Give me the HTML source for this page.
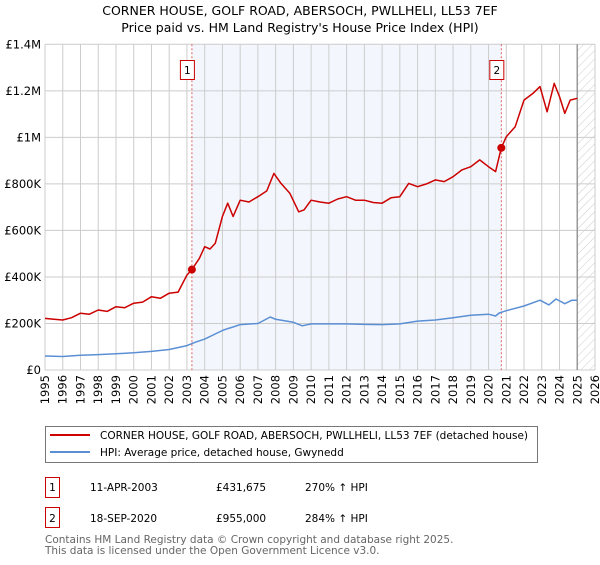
<!DOCTYPE html>
<html><head><meta charset="utf-8"><style>
body{margin:0;background:#fff;font-family:"Liberation Sans","DejaVu Sans",sans-serif;}
svg text{font-family:"DejaVu Sans","Liberation Sans",sans-serif;}
</style></head><body>
<svg id="c" width="600" height="560" xmlns="http://www.w3.org/2000/svg">
<defs><pattern id="hatch" width="6" height="6" patternUnits="userSpaceOnUse" patternTransform="rotate(45)"><line x1="0" y1="0" x2="0" y2="6" stroke="#ccc" stroke-width="1"/></pattern></defs>
<text x="300" y="15" text-anchor="middle" font-size="12.5" fill="#000">CORNER HOUSE, GOLF ROAD, ABERSOCH, PWLLHELI, LL53 7EF</text>
<text x="300" y="32" text-anchor="middle" font-size="12.5" fill="#000">Price paid vs. HM Land Registry's House Price Index (HPI)</text>
<g id="plot"></g>
<rect x="45.5" y="426.5" width="492" height="36" fill="#fff" stroke="#777"/>
<line x1="50" y1="435" x2="90" y2="435" stroke="#cc0000" stroke-width="2"/>
<text x="100" y="439" font-size="10.5">CORNER HOUSE, GOLF ROAD, ABERSOCH, PWLLHELI, LL53 7EF (detached house)</text>
<line x1="50" y1="452" x2="90" y2="452" stroke="#5b8fd4" stroke-width="2"/>
<text x="100" y="456" font-size="10.5">HPI: Average price, detached house, Gwynedd</text>
<g>
<rect x="45.5" y="477.5" width="14" height="20" fill="#fff" stroke="#cc0000"/>
<text x="52.5" y="491" text-anchor="middle" font-size="10.5">1</text>
<text x="90" y="491" font-size="10.5">11-APR-2003</text>
<text x="216" y="491" font-size="10.5">£431,675</text>
<text x="305" y="491" font-size="10.5">270% ↑ HPI</text></g>
<g>
<rect x="45.5" y="507.5" width="14" height="20" fill="#fff" stroke="#cc0000"/>
<text x="52.5" y="522" text-anchor="middle" font-size="10.5">2</text>
<text x="90" y="522" font-size="10.5">18-SEP-2020</text>
<text x="216" y="522" font-size="10.5">£955,000</text>
<text x="305" y="522" font-size="10.5">284% ↑ HPI</text></g>
<text x="45" y="543" font-size="10.5" fill="#666">Contains HM Land Registry data © Crown copyright and database right 2025.</text>
<text x="45" y="554" font-size="10.5" fill="#666">This data is licensed under the Open Government Licence v3.0.</text>
</svg>
<script>
const yTicks=[0,200,400,600,800,1000,1200,1400];
const yTickLabels=["£0","£200K","£400K","£600K","£800K","£1M","£1.2M","£1.4M"];
const years=[1995,1996,1997,1998,1999,2000,2001,2002,2003,2004,2005,2006,2007,2008,2009,2010,2011,2012,2013,2014,2015,2016,2017,2018,2019,2020,2021,2022,2023,2024,2025,2026];
const hpiT=[1995,1996,1997,1998,1999,2000,2001,2002,2003,2003.5,2004,2005,2005.3,2005.6,2006,2007,2007.7,2008,2009,2009.5,2010,2011,2012,2013,2014,2015,2016,2017,2018,2019,2020,2020.4,2020.6,2021,2022,2022.9,2023.4,2023.8,2024.3,2024.7,2025];
const hpiV=[60,58,63,66,70,74,80,88,105,120,133,170,178,185,195,200,228,218,205,190,198,198,198,196,195,198,210,215,225,235,240,232,245,255,275,300,280,305,285,300,300];
const priceT=[1995,1995.5,1996,1996.5,1997,1997.5,1998,1998.5,1999,1999.5,2000,2000.5,2001,2001.5,2002,2002.5,2003,2003.28,2003.7,2004,2004.3,2004.6,2005,2005.3,2005.6,2006,2006.5,2007,2007.5,2007.9,2008.3,2008.8,2009.3,2009.6,2010,2010.5,2011,2011.5,2012,2012.5,2013,2013.5,2014,2014.5,2015,2015.5,2016,2016.5,2017,2017.5,2018,2018.5,2019,2019.5,2020,2020.4,2020.72,2021,2021.5,2022,2022.5,2022.9,2023.3,2023.7,2024,2024.3,2024.6,2025];
const priceV=[222,218,215,225,244,240,258,252,272,268,287,292,315,308,330,335,408,431.7,480,530,520,545,660,717,660,730,722,745,770,845,802,760,680,688,730,722,717,735,745,730,730,720,717,740,745,802,788,800,817,810,831,860,874,903,874,853,955,1003,1046,1160,1189,1218,1110,1232,1175,1103,1160,1168];
const sales=[{n:"1",t:2003.28,v:431.675},{n:"2",t:2020.72,v:955}];
const NS="http://www.w3.org/2000/svg";
const X0=45,X1=595,Y0=370,Y1=44.3;
const x=t=>X0+(t-1995)/(2026-1995)*(X1-X0);
const y=v=>Y0-v/1400*(Y0-Y1);
const g=document.getElementById('plot');
function mk(tag,a){const e=document.createElementNS(NS,tag);for(const k in a)e.setAttribute(k,a[k]);g.appendChild(e);return e;}
let r=mk('rect',{x:x(sales[0].t),y:Y1,width:x(sales[1].t)-x(sales[0].t),height:Y0-Y1,fill:'#eef3fc',opacity:0.7});


let h=mk('rect',{x:x(2025),y:Y1,width:X1-x(2025),height:Y0-Y1,fill:'url(#hatch)'});


yTicks.forEach((v,i)=>{
 let l=mk('line',{x1:X0,x2:X1,y1:y(v),y2:y(v),stroke:'#ccc','stroke-width':1});
 
 
 let t=mk('text',{x:X0-4,y:y(v)+4,'text-anchor':'end','font-size':'11.5',fill:'#000'});
 t.textContent=yTickLabels[i];
 
 
});
years.forEach(yr=>{
 let l=mk('line',{x1:x(yr),x2:x(yr),y1:Y1,y2:Y0,stroke:'#ccc','stroke-width':1});
 
 
 const tx=x(yr)+4, ty=375;
 let t=mk('text',{x:tx,y:ty,'text-anchor':'end','font-size':'11.5',transform:'rotate(-90,'+tx.toFixed(1)+','+ty+')'});
 t.textContent=yr;
 
 
});
let v25=mk('line',{x1:x(2025),x2:x(2025),y1:Y1,y2:Y0,stroke:'#999','stroke-width':1.5});


sales.forEach(s=>{
 let l=mk('line',{x1:x(s.t),x2:x(s.t),y1:Y1,y2:Y0,stroke:'#e06060','stroke-width':1,'stroke-dasharray':'2,2'});
 
 
 let b=mk('rect',{x:x(s.t)-11.5,y:60.5,width:14,height:19,fill:'#fff',stroke:'#cc0000'});
 
 
 let t=mk('text',{x:x(s.t)-4.5,y:74,'text-anchor':'middle','font-size':'10.5'});
 t.textContent=s.n;
 
 
});
function line(T,V,col,name){
 let d=T.map((t,i)=>(i?'L':'M')+x(t).toFixed(1)+','+y(V[i]).toFixed(1)).join('');
 let p=mk('path',{d:d,fill:'none',stroke:col,'stroke-width':1.5,'stroke-linejoin':'round'});
 
 
}
line(hpiT,hpiV,'#5b8fd4','hpi-line');
line(priceT,priceV,'#cc0000','property-price-line');
sales.forEach(s=>{
 let c=mk('circle',{cx:x(s.t),cy:y(s.v),r:4,fill:'#cc0000'});
 
 
});
</script>
</body></html>
